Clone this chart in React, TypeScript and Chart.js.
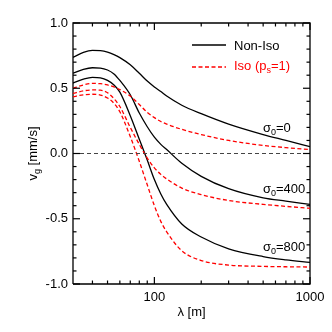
import React, { useEffect, useRef } from "react";
import { Chart, registerables } from "chart.js";

Chart.register(...registerables);

// ---- data ----
const lambdaM = [30, 35, 40, 45, 50, 55, 60, 70, 80, 90, 100, 110, 120, 150, 200, 300, 500, 700, 1000];

const nonIso0 = [0.737, 0.775, 0.79, 0.788, 0.777, 0.758, 0.735, 0.68, 0.615, 0.555, 0.51, 0.475, 0.44, 0.37, 0.305, 0.225, 0.145, 0.1, 0.052];
const nonIso400 = [0.615, 0.645, 0.657, 0.655, 0.64, 0.61, 0.56, 0.45, 0.31, 0.205, 0.125, 0.07, 0.03, -0.075, -0.175, -0.27, -0.34, -0.365, -0.39];
const nonIso800 = [0.54, 0.57, 0.584, 0.58, 0.56, 0.525, 0.47, 0.29, 0.11, -0.05, -0.2, -0.31, -0.39, -0.54, -0.64, -0.73, -0.79, -0.815, -0.835];

const iso0 = [0.5, 0.525, 0.537, 0.535, 0.525, 0.51, 0.49, 0.44, 0.375, 0.315, 0.275, 0.245, 0.225, 0.185, 0.145, 0.1, 0.062, 0.045, 0.03];
const iso400 = [0.46, 0.48, 0.487, 0.485, 0.465, 0.42, 0.36, 0.2, 0.07, -0.035, -0.11, -0.16, -0.195, -0.265, -0.315, -0.36, -0.39, -0.405, -0.42];
const iso800 = [0.435, 0.45, 0.454, 0.448, 0.425, 0.385, 0.32, 0.13, -0.06, -0.24, -0.4, -0.52, -0.6, -0.745, -0.82, -0.855, -0.865, -0.868, -0.87];

const zeroLineX = [30, 1000];
const zeroLineY = [0, 0];

// plot frame corners (axis limits)
const frameX = [30, 1000, 1000, 30, 30];
const frameY = [-1, -1, 1, 1, -1];

const xMajorTicks = [100, 1000];
const xMinorTicks = [40, 50, 60, 70, 80, 90, 200, 300, 400, 500, 600, 700, 800, 900];
const yMajorTicks = [-1, -0.5, 0, 0.5, 1];
const yMinorTicks = [-0.9, -0.8, -0.7, -0.6, -0.4, -0.3, -0.2, -0.1, 0.1, 0.2, 0.3, 0.4, 0.6, 0.7, 0.8, 0.9];

const sigmaLabels = [
  { value: "0", y: 0.165 },
  { value: "400", y: -0.303 },
  { value: "800", y: -0.747 },
];

const FONT = '"Liberation Sans", Arial, Helvetica, sans-serif';
const MAIN = 13;
const SUB = 9;

type Part = { t: string; sub?: boolean };

function partsWidth(ctx: CanvasRenderingContext2D, parts: Part[]) {
  let w = 0;
  for (const p of parts) {
    ctx.font = `${p.sub ? SUB : MAIN}px ${FONT}`;
    w += ctx.measureText(p.t).width;
  }
  return w;
}

function drawParts(ctx: CanvasRenderingContext2D, parts: Part[], x: number, y: number, color: string) {
  ctx.fillStyle = color;
  ctx.textBaseline = "alphabetic";
  ctx.textAlign = "left";
  let cx = x;
  for (const p of parts) {
    ctx.font = `${p.sub ? SUB : MAIN}px ${FONT}`;
    ctx.fillText(p.t, cx, p.sub ? y + 3 : y);
    cx += ctx.measureText(p.t).width;
  }
}

const decorPlugin = {
  id: "decor",
  afterDraw(chart: any) {
    const ctx: CanvasRenderingContext2D = chart.ctx;
    const xs = chart.scales.x;
    const ys = chart.scales.y;
    const { left, right, top, bottom } = chart.chartArea;
    ctx.save();
    ctx.setLineDash([]);

    // inward ticks on all four sides
    ctx.strokeStyle = "#000";
    ctx.lineWidth = 1.2;
    const seg = (x1: number, y1: number, x2: number, y2: number) => {
      ctx.beginPath();
      ctx.moveTo(x1, y1);
      ctx.lineTo(x2, y2);
      ctx.stroke();
    };
    const vt = (v: number, len: number) => {
      const px = xs.getPixelForValue(v);
      seg(px, bottom, px, bottom - len);
      seg(px, top, px, top + len);
    };
    const ht = (v: number, len: number) => {
      const py = ys.getPixelForValue(v);
      seg(left, py, left + len, py);
      seg(right, py, right - len, py);
    };
    xMajorTicks.forEach((v) => vt(v, 7));
    xMinorTicks.forEach((v) => vt(v, 3.5));
    yMajorTicks.forEach((v) => ht(v, 7));
    yMinorTicks.forEach((v) => ht(v, 3.5));

    // legend
    const lx1 = left + 119;
    const lx2 = left + 153;
    const ly1 = top + 22;
    const ly2 = top + 44;
    ctx.strokeStyle = "#000";
    ctx.lineWidth = 1.3;
    seg(lx1, ly1, lx2, ly1);
    ctx.strokeStyle = "#ff0000";
    ctx.setLineDash([4, 2.5]);
    seg(lx1, ly2, lx2, ly2);
    ctx.setLineDash([]);
    drawParts(ctx, [{ t: "Non-Iso" }], lx2 + 8, ly1 + 4.5, "#000");
    drawParts(ctx, [{ t: "Iso (p" }, { t: "s", sub: true }, { t: "=1)" }], lx2 + 8, ly2 + 3, "#ff0000");

    // sigma annotations
    for (const s of sigmaLabels) {
      const py = ys.getPixelForValue(s.y);
      drawParts(ctx, [{ t: "σ" }, { t: "0", sub: true }, { t: "=" + s.value }], left + 190, py, "#000");
    }

    // x title
    ctx.font = `${MAIN}px ${FONT}`;
    ctx.fillStyle = "#000";
    ctx.textAlign = "center";
    ctx.textBaseline = "alphabetic";
    ctx.fillText("λ [m]", (left + right) / 2, bottom + 32);

    // y title (rotated)
    const yParts: Part[] = [{ t: "v" }, { t: "g", sub: true }, { t: " [mm/s]" }];
    const w = partsWidth(ctx, yParts);
    ctx.save();
    ctx.translate(left - 36, (top + bottom) / 2);
    ctx.rotate(-Math.PI / 2);
    drawParts(ctx, yParts, -w / 2, 0, "#000");
    ctx.restore();

    ctx.restore();
  },
};

function pts(ys: number[], xs: number[] = lambdaM) {
  return xs.map((x, i) => ({ x, y: ys[i] }));
}

export default function App() {
  const ref = useRef<HTMLCanvasElement | null>(null);
  useEffect(() => {
    if (!ref.current) return;
    const red = "#ff0000";
    const solid = (data: number[]) => ({
      data: pts(data),
      borderColor: "#000",
      borderWidth: 1.3,
      pointRadius: 0,
      cubicInterpolationMode: "monotone" as const,
      fill: false,
    });
    const dashed = (data: number[]) => ({
      data: pts(data),
      borderColor: red,
      borderWidth: 1.3,
      borderDash: [4, 2.5],
      pointRadius: 0,
      cubicInterpolationMode: "monotone" as const,
      fill: false,
    });
    const chart = new Chart(ref.current, {
      type: "line",
      data: {
        datasets: [
          {
            data: pts(zeroLineY, zeroLineX),
            borderColor: "#444",
            borderWidth: 1.2,
            borderDash: [4, 3],
            pointRadius: 0,
            fill: false,
          },
          dashed(iso0),
          dashed(iso400),
          dashed(iso800),
          solid(nonIso0),
          solid(nonIso400),
          solid(nonIso800),
          {
            data: pts(frameY, frameX),
            borderColor: "#000",
            borderWidth: 1.3,
            pointRadius: 0,
            tension: 0,
            fill: false,
            clip: false,
          },
        ] as any,
      },
      options: {
        animation: false,
        responsive: false,
        layout: { padding: { top: 23, right: 22, left: 0, bottom: 0 } },
        plugins: { legend: { display: false }, tooltip: { enabled: false }, title: { display: false } },
        scales: {
          x: {
            type: "logarithmic",
            min: 30,
            max: 1000,
            grid: { display: false, drawTicks: false },
            border: { display: false },
            afterBuildTicks: (scale: any) => {
              scale.ticks = xMajorTicks.map((v) => ({ value: v }));
            },
            afterFit: (scale: any) => {
              scale.height = 48;
            },
            ticks: {
              autoSkip: false,
              maxRotation: 0,
              padding: 6,
              color: "#000",
              font: { family: FONT, size: MAIN },
              callback: (v: any) => String(v),
            },
          },
          y: {
            type: "linear",
            min: -1,
            max: 1,
            grid: { display: false, drawTicks: false },
            border: { display: false },
            afterBuildTicks: (scale: any) => {
              scale.ticks = yMajorTicks.map((v) => ({ value: v }));
            },
            afterFit: (scale: any) => {
              scale.width = 73;
            },
            ticks: {
              padding: 5,
              color: "#000",
              font: { family: FONT, size: MAIN },
              callback: (v: any) => Number(v).toFixed(1),
            },
          },
        },
      } as any,
      plugins: [decorPlugin],
    });
    return () => chart.destroy();
  }, []);
  return (
    <div style={{ position: "fixed", left: 0, top: 0, width: 332, height: 332, background: "#fff" }}>
      <canvas ref={ref} width={332} height={332} style={{ display: "block" }} />
    </div>
  );
}
